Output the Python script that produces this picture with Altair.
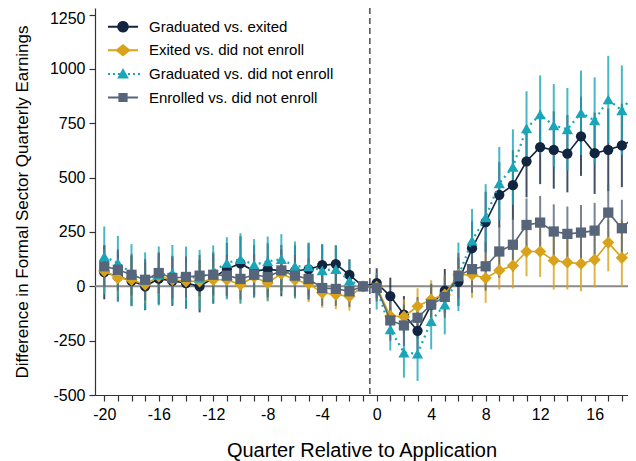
import math
import altair as alt
import pandas as pd

# ---------------- data ----------------
quarters = list(range(-20, 20))
tick_quarters = list(range(-20, 19))
series_names = [
    "Graduated vs. exited",
    "Exited vs. did not enroll",
    "Graduated vs. did not enroll",
    "Enrolled vs. did not enroll",
]
colors = ["#12243f", "#d8a31a", "#1aa6b8", "#566579"]
y_ticks = [-500, -250, 0, 250, 500, 750, 1000, 1250]

grad_exit_est = [65, 45, 25, 0, 35, 25, 15, 0, 38, 80, 105, 70, 78, 72, 70, 78, 97, 102, 52, 0,
                 15, -45, -130, -205, -85, -20, 20, 175, 295, 421, 465, 575, 640, 627, 610, 690, 612, 628, 648, 680]
grad_exit_lo = [-60, -70, -90, -110, -83, -90, -103, -120, -80, -40, -20, -50, -42, -46, -48, -42, 2, 17, -20, 0,
                -53, -130, -215, -295, -180, -120, -90, 50, 155, 271, 305, 409, 470, 449, 432, 508, 425, 438, 456, 485]
grad_exit_hi = [190, 160, 140, 110, 153, 140, 133, 120, 156, 200, 230, 190, 198, 190, 188, 198, 192, 187, 124, 0,
                83, 40, -45, -115, 10, 80, 130, 300, 435, 571, 625, 741, 810, 805, 788, 872, 799, 818, 840, 875]

exit_none_est = [70, 38, 30, 8, 46, 30, 23, 23, 30, 30, 8, 43, 15, 58, 30, 12, -30, -38, -46, 0,
                 -3, -137, -140, -92, -61, -38, 53, 53, 38, 73, 95, 160, 160, 119, 110, 104, 122, 201, 131, 183]
exit_none_lo = [-30, -47, -55, -77, -39, -55, -62, -62, -55, -55, -77, -42, -70, -27, -55, -73, -99, -105, -112, 0,
                -60, -215, -220, -175, -150, -125, -30, -53, -76, -15, -10, 46, 43, -15, -15, -23, -5, 69, 0, 50]
exit_none_hi = [170, 123, 115, 93, 131, 115, 108, 108, 115, 115, 93, 128, 100, 143, 115, 97, 39, 29, 20, 0,
                54, -59, -60, -9, 28, 49, 136, 145, 153, 168, 200, 259, 267, 244, 229, 244, 250, 305, 305, 320]

grad_none_est = [137, 107, 61, 30, 53, 61, 46, 38, 69, 107, 125, 99, 114, 125, 92, 92, 73, 79, 26, 0,
                 -8, -198, -305, -310, -160, -84, 46, 210, 317, 473, 549, 726, 790, 740, 722, 798, 763, 859, 809, 897]
grad_none_lo = [-38, -69, -92, -107, -88, -85, -99, -107, -76, -61, -81, -53, -66, -30, -56, -61, -50, -40, -70, 0,
                -107, -295, -420, -435, -290, -221, -114, 60, 160, 305, 376, 555, 610, 550, 532, 604, 565, 658, 602, 714]
grad_none_hi = [275, 232, 194, 156, 183, 190, 183, 168, 188, 226, 244, 217, 229, 240, 206, 201, 195, 190, 120, 0,
                61, -95, -190, -185, -46, 15, 201, 356, 470, 641, 722, 897, 970, 930, 912, 992, 961, 1060, 1016, 1080]

enr_none_est = [92, 76, 53, 30, 61, 38, 43, 49, 53, 49, 34, 53, 43, 73, 49, 34, -8, -12, -23, 0,
                -8, -157, -180, -145, -84, -49, 49, 79, 92, 160, 191, 282, 293, 252, 241, 247, 256, 339, 267, 328]
enr_none_lo = [-3, -19, -42, -65, -34, -57, -52, -46, -42, -46, -61, -42, -52, -22, -46, -61, -90, -90, -95, 0,
               -70, -250, -275, -240, -180, -145, -55, -30, -20, 40, 68, 160, 170, 127, 115, 120, 128, 210, 136, 196]
enr_none_hi = [187, 171, 148, 125, 156, 133, 138, 144, 148, 144, 129, 148, 138, 168, 144, 129, 74, 66, 49, 0,
               54, -64, -85, -50, 12, 47, 153, 188, 204, 280, 314, 404, 416, 377, 367, 374, 384, 468, 398, 460]

ests = [grad_exit_est, exit_none_est, grad_none_est, enr_none_est]
los = [grad_exit_lo, exit_none_lo, grad_none_lo, enr_none_lo]
his = [grad_exit_hi, exit_none_hi, grad_none_hi, enr_none_hi]

rows = []
for name, est, lo, hi in zip(series_names, ests, los, his):
    for q, e, l, h in zip(quarters, est, lo, hi):
        rows.append({"q": q, "series": name, "est": e, "lo": l, "hi": h})
df = pd.DataFrame(rows)

# ---------------- styling ----------------
FONT = "Liberation Sans"
point_shapes = ["circle", "diamond", "triangle-up", "square"]
point_sizes = [105, 150, 125, 105]
line_widths = [1.6, 1.6, 2.2, 1.6]
line_dashes = [None, None, [2, 4], None]


def rect(x0, x1, h):
    return f"M{x0:.3f},{-h:.3f}H{x1:.3f}V{h:.3f}H{x0:.3f}Z"


def poly(points):
    return "M" + "L".join(f"{x:.3f},{y:.3f}" for x, y in points) + "Z"


def circle_path(r, n=20):
    return poly([(r * math.cos(2 * math.pi * k / n), r * math.sin(2 * math.pi * k / n)) for k in range(n)])


line_solid = rect(-1.5, 1.5, 0.1)
line_dotted = "".join(rect(-1.5 + 0.5 * k, -1.5 + 0.5 * k + 0.2, 0.1) for k in range(7))
legend_paths = [
    line_solid + circle_path(0.58),
    line_solid + poly([(-0.78, 0), (0, -0.62), (0.78, 0), (0, 0.62)]),
    line_dotted + poly([(0, -0.6), (0.58, 0.45), (-0.58, 0.45)]),
    line_solid + poly([(-0.46, -0.46), (0.46, -0.46), (0.46, 0.46), (-0.46, 0.46)]),
]

x_scale = alt.Scale(domain=[-20.68, 18.45], nice=False, zero=False)
y_scale = alt.Scale(domain=[-500, 1280], nice=False, zero=False)
color_scale = alt.Scale(domain=series_names, range=colors)

x_axis = alt.Axis(
    values=tick_quarters,
    labelExpr="datum.value % 4 === 0 ? '' + datum.value : ''",
    title="Quarter Relative to Application",
    titleFontSize=20,
    labelFontSize=16,
    tickSize=6,
    labelPadding=5,
    titlePadding=18,
    labelFlush=False,
    labelOverlap=False,
)
y_axis = alt.Axis(
    values=y_ticks,
    labelExpr="'' + datum.value",
    title="Difference in Formal Sector Quarterly Earnings",
    titleFontSize=17,
    labelFontSize=16,
    labelOffset={"condition": {"test": "datum.value === 1250", "value": 3.5}, "value": 0},
    tickSize=6,
    labelPadding=4,
    titlePadding=18,
    labelFlush=False,
)

legend_kw = dict(
    orient="none",
    legendX=18,
    legendY=8.7,
    title=None,
    labelFontSize=15,
    labelFont=FONT,
    labelColor="black",
    labelLimit=400,
    symbolSize=400,
    symbolStrokeWidth=0,
    symbolOpacity=1,
    labelOffset=16,
    rowPadding=5.6,
    padding=0,
)

X = alt.X("q:Q", scale=x_scale, axis=x_axis)
Y = alt.Y("est:Q", scale=y_scale, axis=y_axis)
C = alt.Color("series:N", scale=color_scale, legend=alt.Legend(**legend_kw))

# legend carrier layer (first, so the merged legend takes filled symbols)
legend_layer = alt.Chart(df).mark_point(filled=True, opacity=0, size=400).encode(
    x=X,
    y=Y,
    color=C,
    shape=alt.Shape("series:N", scale=alt.Scale(domain=series_names, range=legend_paths),
                    legend=alt.Legend(**legend_kw)),
)

zero_line = alt.Chart(pd.DataFrame({"v": [0]})).mark_rule(color="#8a8a8a", strokeWidth=2).encode(
    y=alt.Y("v:Q", scale=y_scale, axis=y_axis)
)
app_line = alt.Chart(pd.DataFrame({"v": [-0.5]})).mark_rule(
    color="#222222", strokeWidth=1.2, strokeDash=[6, 4]
).encode(x=alt.X("v:Q", scale=x_scale, axis=x_axis))

bars = alt.Chart(df).mark_rule(strokeWidth=2, opacity=0.8).encode(
    x=X,
    y=alt.Y("lo:Q", scale=y_scale, axis=y_axis),
    y2="hi:Q",
    color=C,
)

layers = [legend_layer, zero_line, app_line, bars]
for name, shp, sz, lw, dash in zip(series_names, point_shapes, point_sizes, line_widths, line_dashes):
    base = alt.Chart(df).transform_filter(alt.datum.series == name)
    line_kw = {"strokeWidth": lw}
    if dash is not None:
        line_kw["strokeDash"] = dash
    layers.append(base.mark_line(**line_kw).encode(x=X, y=Y, color=C))
    layers.append(base.mark_point(filled=True, opacity=1, shape=shp, size=sz).encode(x=X, y=Y, color=C))

chart = (
    alt.layer(*layers)
    .properties(
        width=533,
        height=387,
        autosize=alt.AutoSizeParams(type="none"),
        padding={"left": 87, "top": 0, "right": 0, "bottom": 66},
    )
    .configure_view(stroke=None)
    .configure_axis(
        grid=False,
        domainColor="#333333",
        tickColor="#333333",
        domainWidth=1.2,
        tickWidth=1.2,
        labelFont=FONT,
        titleFont=FONT,
        labelColor="black",
        titleColor="black",
        titleFontWeight="normal",
    )
)

chart.save("out.html", embed_options={"renderer": "svg", "actions": False})
